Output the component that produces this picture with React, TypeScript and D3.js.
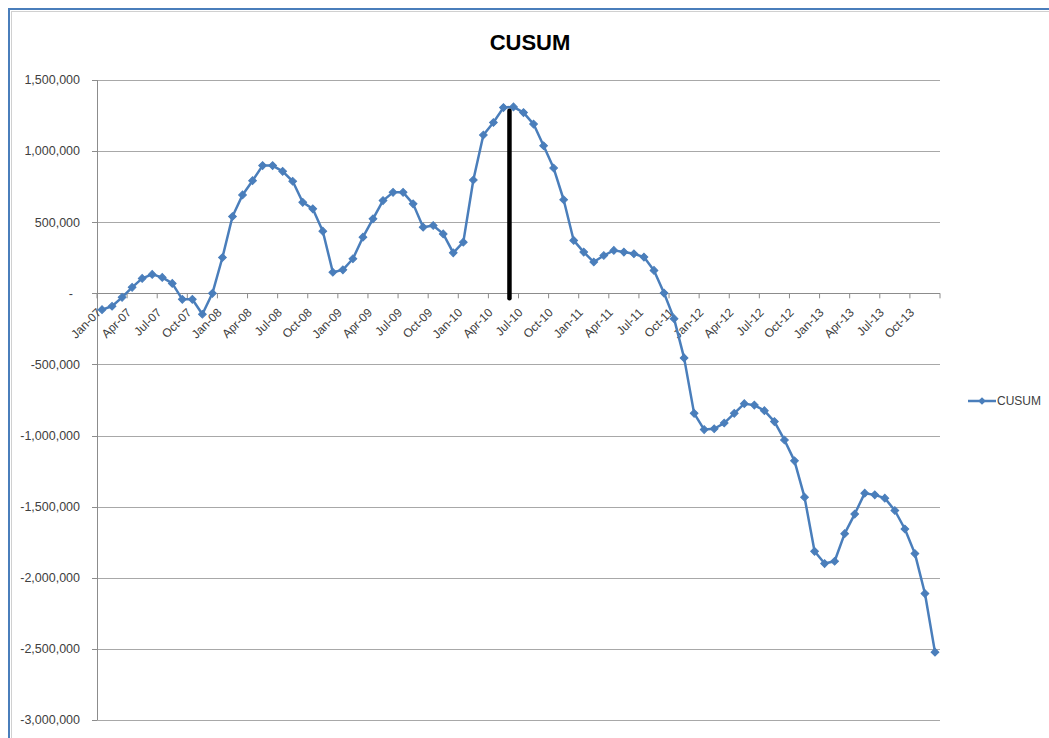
import React from "react";
import * as d3 from "d3";

const years = ["07", "08", "09", "10", "11", "12", "13"];
const monthNames = ["Jan", "Feb", "Mar", "Apr", "May", "Jun", "Jul", "Aug", "Sep", "Oct", "Nov", "Dec"];
const categories: string[] = years.flatMap((y) => monthNames.map((m) => `${m}-${y}`));

const cusum: number[] = [
  -115000, -91000, -28000, 42000, 105000, 133000, 112000, 70000, -42000, -42000, -147000, 0,
  252000, 540000, 692000, 792000, 898000, 898000, 858000, 788000, 640000, 594000, 437000, 148000,
  165000, 243000, 395000, 524000, 652000, 710000, 710000, 629000, 465000, 477000, 418000, 285000,
  360000, 797000, 1113000, 1201000, 1306000, 1311000, 1271000, 1190000, 1038000, 881000, 658000, 372000,
  290000, 220000, 266000, 302000, 290000, 278000, 255000, 161000, 2000, -178000, -454000, -844000,
  -958000, -952000, -912000, -844000, -776000, -786000, -825000, -902000, -1031000, -1178000, -1433000, -1814000,
  -1900000, -1884000, -1690000, -1552000, -1405000, -1417000, -1440000, -1527000, -1657000, -1830000, -2111000, -2523000,
];

const yTicks: number[] = [1500000, 1000000, 500000, 0, -500000, -1000000, -1500000, -2000000, -2500000, -3000000];
const seriesName = "CUSUM";
const chartTitle = "CUSUM";
const changePointCategory = "Jun-10";
const changePointRange: [number, number] = [1283000, -35000];

const W = 1049;
const H = 738;
const left = 97;
const right = 940;
const top = 80;
const bottom = 720;
const blue = "#4a7ebb";

const locale = d3.formatLocale({ decimal: ".", thousands: ",", grouping: [3], currency: ["", ""], minus: "-" });
const commaFmt = locale.format(",");

export default function App() {
  const x = d3.scaleBand<string>().domain(categories).range([left, right]).padding(0);
  const y = d3.scaleLinear().domain([-3000000, 1500000]).range([bottom, top]);
  const cx = (c: string) => (x(c) as number) + x.bandwidth() / 2;

  const line = d3
    .line<number>()
    .x((_, i) => cx(categories[i]))
    .y((d) => y(d));

  const diamond = d3.symbol(d3.symbolSquare, 30)() as string;
  const fmt = (v: number) => (v === 0 ? "-" : commaFmt(v));

  const tickIdx = d3.range(0, categories.length + 1, 3);
  const labelIdx = d3.range(0, categories.length, 3);
  const y0 = y(0);
  const cpX = (x(changePointCategory) as number) + 1;

  return (
    <svg
      width={W}
      height={H}
      style={{ position: "absolute", left: 0, top: 0, background: "#fff" }}
      fontFamily="'Liberation Sans', Arial, sans-serif"
    >
      <rect x={9} y={9} width={1200} height={1000} fill="#fff" stroke={blue} strokeWidth={2} />
      <rect x={11.5} y={11.5} width={1200} height={1000} fill="none" stroke="#d0d0d0" strokeWidth={1} />

      <text x={530} y={50} textAnchor="middle" fontSize={22} fontWeight="bold" fill="#000">
        {chartTitle}
      </text>

      {yTicks.map((t) => (
        <g key={t}>
          {t !== 0 && (
            <line x1={left} x2={right} y1={Math.round(y(t)) + 0.5} y2={Math.round(y(t)) + 0.5} stroke="#a8a8a8" />
          )}
          <line x1={left - 5} x2={left} y1={Math.round(y(t)) + 0.5} y2={Math.round(y(t)) + 0.5} stroke="#8c8c8c" />
          <text
            x={t === 0 ? 73 : 80}
            y={y(t)}
            dy="0.35em"
            textAnchor="end"
            fontSize={12.5}
            fill="#404040"
          >
            {fmt(t)}
          </text>
        </g>
      ))}

      <line x1={left + 0.5} x2={left + 0.5} y1={top} y2={bottom} stroke="#8c8c8c" />
      <line x1={left} x2={right} y1={Math.round(y0) + 0.5} y2={Math.round(y0) + 0.5} stroke="#8c8c8c" />
      {tickIdx.map((i) => {
        const tx = i < categories.length ? (x(categories[i]) as number) : right;
        return <line key={i} x1={tx} x2={tx} y1={y0} y2={y0 + 5} stroke="#8c8c8c" />;
      })}
      {labelIdx.map((i) => (
        <text
          key={i}
          transform={`translate(${cx(categories[i]) - 3},${y0 + 17}) rotate(-45)`}
          textAnchor="end"
          dy="0.35em"
          fontSize={12}
          fill="#404040"
        >
          {categories[i]}
        </text>
      ))}

      <path d={line(cusum) as string} fill="none" stroke={blue} strokeWidth={2.5} strokeLinejoin="round" />
      {cusum.map((v, i) => (
        <path
          key={i}
          d={diamond}
          transform={`translate(${cx(categories[i])},${y(v)}) rotate(45)`}
          fill={blue}
          stroke={blue}
          strokeWidth={1}
        />
      ))}

      <line
        x1={cpX}
        x2={cpX}
        y1={y(changePointRange[0])}
        y2={y(changePointRange[1])}
        stroke="#000"
        strokeWidth={4.5}
        strokeLinecap="round"
      />

      <g transform="translate(968,401)">
        <line x1={0} x2={28} y1={0} y2={0} stroke={blue} strokeWidth={2.5} />
        <path d={diamond} transform="translate(14,0) rotate(45)" fill={blue} />
        <text x={29} y={0} dy="0.35em" fontSize={12} fill="#404040">
          {seriesName}
        </text>
      </g>
    </svg>
  );
}
